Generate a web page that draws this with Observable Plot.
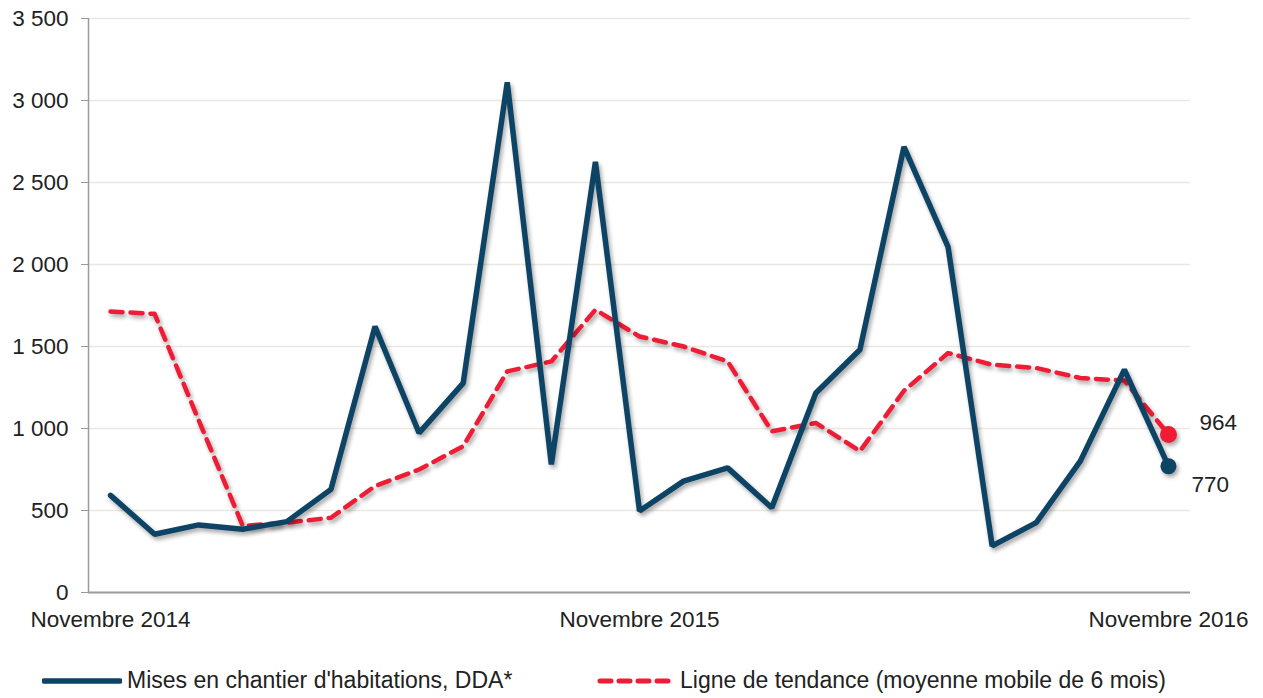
<!DOCTYPE html>
<html>
<head>
<meta charset="utf-8">
<script src="https://cdn.jsdelivr.net/npm/d3@7"></script>
<script src="https://cdn.jsdelivr.net/npm/@observablehq/plot@0.6"></script>
<style>
  html, body { margin: 0; padding: 0; background: #fff; }
  body { width: 1263px; height: 698px; position: relative; overflow: hidden; font-family: "Liberation Sans", Arial, sans-serif; }
  #chart { position: absolute; left: 0; top: 0; }
  .legend { position: absolute; top: 667px; font-size: 23px; color: #222; display: flex; align-items: center; white-space: nowrap; }
  .legend svg { margin-right: 5px; }
  .shadow { filter: drop-shadow(2px 3px 2px rgba(0,0,0,0.35)); }
</style>
</head>
<body>
<div id="chart"></div>
<div class="legend" style="left:42px">
  <svg width="80" height="10"><line x1="2" y1="5" x2="78" y2="5" stroke="#0d4466" stroke-width="5.5" stroke-linecap="round"/></svg>
  <span>Mises en chantier d'habitations, DDA*</span>
</div>
<div class="legend" style="left:597px">
  <svg width="78" height="10"><line x1="3" y1="5" x2="75" y2="5" stroke="#ee1c34" stroke-width="5" stroke-dasharray="11 8" stroke-linecap="round"/></svg>
  <span>Ligne de tendance (moyenne mobile de 6 mois)</span>
</div>
<script>
// Months: November 2014 .. November 2016 (index 0..24)
const months = [
  "2014-11","2014-12","2015-01","2015-02","2015-03","2015-04","2015-05","2015-06","2015-07","2015-08","2015-09","2015-10",
  "2015-11","2015-12","2016-01","2016-02","2016-03","2016-04","2016-05","2016-06","2016-07","2016-08","2016-09","2016-10","2016-11"
];
const misesEnChantier = [592, 355, 412, 386, 432, 629, 1622, 973, 1277, 3111, 781, 2626, 497, 679, 760, 517, 1216, 1480, 2717, 2108, 284, 426, 801, 1359, 770];
const tendance = [1713, 1699, 1050, 406, 426, 456, 649, 750, 892, 1348, 1409, 1724, 1561, 1500, 1409, 983, 1034, 862, 1230, 1460, 1389, 1369, 1308, 1292, 964];
const xTickIndex = [0, 12, 24];
const xTickLabels = ["Novembre 2014", "Novembre 2015", "Novembre 2016"];
const yTicks = [0, 500, 1000, 1500, 2000, 2500, 3000, 3500];

const blue = "#0d4466";
const red = "#ee1c34";

const mises = months.map((m, i) => ({i, m, v: misesEnChantier[i]}));
const trend = months.map((m, i) => ({i, m, v: tendance[i]}));
const last = months.length - 1;

const fmt = d => d3.format(",")(d).replace(/,/g, "\u00a0");

const chart = Plot.plot({
  width: 1263,
  height: 640,
  marginLeft: 88,
  marginRight: 73,
  marginTop: 18,
  marginBottom: 48,
  style: {fontFamily: "Liberation Sans, Arial, sans-serif", fontSize: "22.5px", color: "#222", background: "#fff"},
  x: {type: "linear", domain: [-0.5, last + 0.5]},
  y: {type: "linear", domain: [0, 3500]},
  marks: [
    Plot.ruleY(yTicks.filter(d => d > 0), {stroke: "#ece8df", strokeWidth: 1.5}),
    Plot.ruleY([0], {stroke: "#9a9a9a", strokeWidth: 2}),
    Plot.ruleX([-0.5], {stroke: "#9a9a9a", strokeWidth: 1.5}),
    Plot.axisY({ticks: yTicks, tickFormat: fmt, tickSize: 7, stroke: "#9a9a9a", tickPadding: 13, fontSize: 22.5, fill: "#222", label: null}),
    Plot.axisX({ticks: xTickIndex, tickFormat: (d) => xTickLabels[xTickIndex.indexOf(d)], tickSize: 0, tickPadding: 19, fontSize: 22.5, fill: "#222", label: null}),
    Plot.line(trend, {x: "i", y: "v", stroke: red, strokeWidth: 4.5, strokeDasharray: "12 8", strokeLinejoin: "round", className: "shadow"}),
    Plot.line(mises, {x: "i", y: "v", stroke: blue, strokeWidth: 5.5, strokeLinejoin: "miter", className: "shadow"}),
    Plot.dot([trend[last]], {x: "i", y: "v", r: 8.5, fill: red, className: "shadow"}),
    Plot.dot([mises[last]], {x: "i", y: "v", r: 8, fill: blue, className: "shadow"}),
    Plot.text([trend[last]], {x: "i", y: "v", text: d => String(d.v), textAnchor: "start", dx: 31, dy: -12, fontSize: 22.5, fill: "#222"}),
    Plot.text([mises[last]], {x: "i", y: "v", text: d => String(d.v), textAnchor: "start", dx: 23, dy: 19, fontSize: 22.5, fill: "#222"})
  ]
});
document.getElementById("chart").appendChild(chart);
</script>
</body>
</html>
